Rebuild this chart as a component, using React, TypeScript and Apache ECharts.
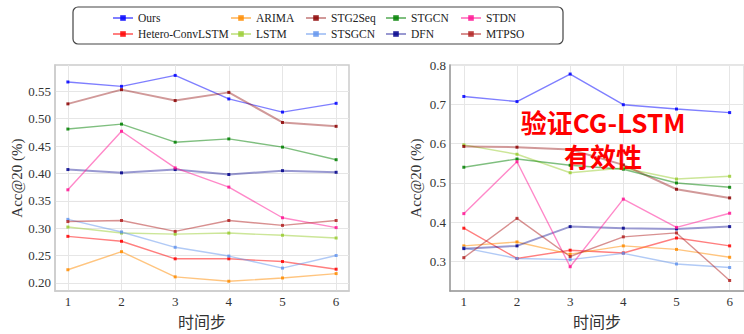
import React, { useEffect, useRef } from "react";
import * as echarts from "echarts";

const steps = [1, 2, 3, 4, 5, 6];
const leftYTicks = [0.2, 0.25, 0.3, 0.35, 0.4, 0.45, 0.5, 0.55];
const rightYTicks = [0.3, 0.4, 0.5, 0.6, 0.7, 0.8];

const seriesNames = ["Ours", "Hetero-ConvLSTM", "ARIMA", "LSTM", "STG2Seq", "STSGCN", "STGCN", "DFN", "STDN", "MTPSO"];
const seriesColors = ["#0000ff", "#ff0000", "#ff8c00", "#9acd32", "#8b0000", "#6495ed", "#008000", "#00008b", "#ff1493", "#b22222"];

// Left panel values
const leftOurs = [0.567, 0.559, 0.579, 0.536, 0.512, 0.528];
const leftHetero = [0.285, 0.276, 0.244, 0.244, 0.239, 0.225];
const leftARIMA = [0.224, 0.257, 0.211, 0.203, 0.209, 0.217];
const leftLSTM = [0.302, 0.291, 0.289, 0.291, 0.287, 0.282];
const leftSTG2Seq = [0.527, 0.553, 0.533, 0.548, 0.493, 0.486];
const leftSTSGCN = [0.316, 0.293, 0.265, 0.249, 0.227, 0.25];
const leftSTGCN = [0.481, 0.49, 0.457, 0.463, 0.448, 0.425];
const leftDFN = [0.407, 0.401, 0.407, 0.398, 0.405, 0.402];
const leftSTDN = [0.37, 0.477, 0.41, 0.375, 0.319, 0.301];
const leftMTPSO = [0.312, 0.314, 0.294, 0.314, 0.305, 0.314];

// Right panel values
const rightOurs = [0.72, 0.707, 0.777, 0.699, 0.688, 0.679];
const rightHetero = [0.385, 0.308, 0.329, 0.322, 0.36, 0.34];
const rightARIMA = [0.34, 0.35, 0.319, 0.34, 0.331, 0.311];
const rightLSTM = [0.597, 0.573, 0.526, 0.538, 0.51, 0.517];
const rightSTG2Seq = [0.593, 0.591, 0.585, 0.546, 0.484, 0.462];
const rightSTSGCN = [0.335, 0.308, 0.305, 0.321, 0.294, 0.285];
const rightSTGCN = [0.54, 0.561, 0.545, 0.535, 0.5, 0.489];
const rightDFN = [0.333, 0.34, 0.389, 0.385, 0.383, 0.389];
const rightSTDN = [0.422, 0.554, 0.287, 0.459, 0.387, 0.423];
const rightMTPSO = [0.31, 0.41, 0.313, 0.363, 0.373, 0.252];

const leftData = [leftOurs, leftHetero, leftARIMA, leftLSTM, leftSTG2Seq, leftSTSGCN, leftSTGCN, leftDFN, leftSTDN, leftMTPSO];
const rightData = [rightOurs, rightHetero, rightARIMA, rightLSTM, rightSTG2Seq, rightSTSGCN, rightSTGCN, rightDFN, rightSTDN, rightMTPSO];

const legendRow1 = ["Ours", "ARIMA", "STG2Seq", "STGCN", "STDN"];
const legendRow2 = ["Hetero-ConvLSTM", "LSTM", "STSGCN", "DFN", "MTPSO"];

const axisTitle = "Acc@20 (%)";
const xTitle = "时间步";
const noteLine1 = "验证CG-LSTM";
const noteLine2 = "有效性";

const SERIF = "Liberation Serif, Times New Roman, serif";

export default function App() {
  const ref = useRef<HTMLDivElement>(null);
  useEffect(() => {
    document.body.style.margin = "0";
    const chart = echarts.init(ref.current!, null, { renderer: "svg" });

    const colX = [112, 230, 305, 385, 460];
    const legends: any[] = [];
    [legendRow1, legendRow2].forEach((row, r) => {
      row.forEach((name, c) => {
        legends.push({
          data: [name],
          left: colX[c],
          top: r === 0 ? 12 : 28,
          padding: 0,
          itemWidth: 20,
          itemHeight: 7,
          textStyle: { fontFamily: SERIF, fontSize: 11.5, color: "#222" },
        });
      });
    });

    const mkX = (gi: number, min: number, max: number, lineColor: string) => ({
      type: "value",
      gridIndex: gi,
      min,
      max,
      name: xTitle,
      nameLocation: "middle",
      nameGap: 15,
      nameTextStyle: { fontFamily: "Noto Sans CJK SC", fontSize: 16, color: "#333" },
      axisLine: { show: true, lineStyle: { color: lineColor, width: 1.5 } },
      axisTick: { show: false, customValues: steps },
      axisLabel: { customValues: steps, fontFamily: SERIF, fontSize: 13, color: "#333", margin: 4 },
      splitLine: { show: true, lineStyle: { color: "#e6e6e6", width: 1 } },
    });

    const mkY = (gi: number, min: number, max: number, ticks: number[], dec: number, gap: number, lineColor: string) => ({
      type: "value",
      gridIndex: gi,
      min,
      max,
      name: axisTitle,
      nameLocation: "middle",
      nameGap: gap,
      nameTextStyle: { fontFamily: SERIF, fontSize: 15, color: "#333" },
      axisLine: { show: true, lineStyle: { color: lineColor, width: 1.5 } },
      axisTick: { show: false, customValues: ticks },
      axisLabel: {
        customValues: ticks,
        fontFamily: SERIF,
        fontSize: 13,
        color: "#333",
        margin: 4,
        formatter: (v: number) => v.toFixed(dec),
      },
      splitLine: { show: true, lineStyle: { color: "#e6e6e6", width: 1 } },
    });

    const series: any[] = [];
    [leftData, rightData].forEach((panel, gi) => {
      panel.forEach((vals, i) => {
        const thick = seriesNames[i] === "DFN" || seriesNames[i] === "STG2Seq";
        series.push({
          type: "line",
          name: seriesNames[i],
          xAxisIndex: gi,
          yAxisIndex: gi,
          data: vals.map((v, k) => [steps[k], v]),
          symbol: "rect",
          symbolSize: 3,
          color: seriesColors[i],
          lineStyle: { width: thick ? 2 : 1.4, opacity: thick ? 0.4 : 0.5 },
          itemStyle: { opacity: 0.85 },
          emphasis: { disabled: true },
        });
      });
    });

    chart.setOption({
      animation: false,
      backgroundColor: "#ffffff",
      legend: legends,
      grid: [
        { left: 55, top: 65, width: 294, height: 238, show: true, borderColor: "#cccccc", borderWidth: 1.5, backgroundColor: "transparent" },
        { left: 450, top: 65, width: 297, height: 238, show: true, borderColor: "#dddddd", borderWidth: 1.5, backgroundColor: "transparent" },
      ],
      xAxis: [mkX(0, 0.76, 6.24, "#cccccc"), mkX(1, 0.74, 6.27, "#999999")],
      yAxis: [mkY(0, 0.185, 0.598, leftYTicks, 2, 30, "#cccccc"), mkY(1, 0.225, 0.8, rightYTicks, 1, 27, "#999999")],
      series,
      graphic: [
        {
          type: "rect",
          shape: { x: 73, y: 7, width: 490, height: 37, r: 5 },
          style: { fill: "none", stroke: "#444", lineWidth: 1.2 },
          z: 10,
        },
        {
          type: "text",
          x: 603,
          y: 121,
          style: { text: noteLine1, fontFamily: "Noto Sans CJK SC", fontWeight: "bold", fontSize: 26, fill: "#ff0000", align: "center", verticalAlign: "middle" },
          z: 100,
        },
        {
          type: "text",
          x: 603,
          y: 155,
          style: { text: noteLine2, fontFamily: "Noto Sans CJK SC", fontWeight: "bold", fontSize: 26, fill: "#ff0000", align: "center", verticalAlign: "middle" },
          z: 100,
        },
      ],
    });
    return () => chart.dispose();
  }, []);
  return <div ref={ref} style={{ width: 744, height: 334 }} />;
}
